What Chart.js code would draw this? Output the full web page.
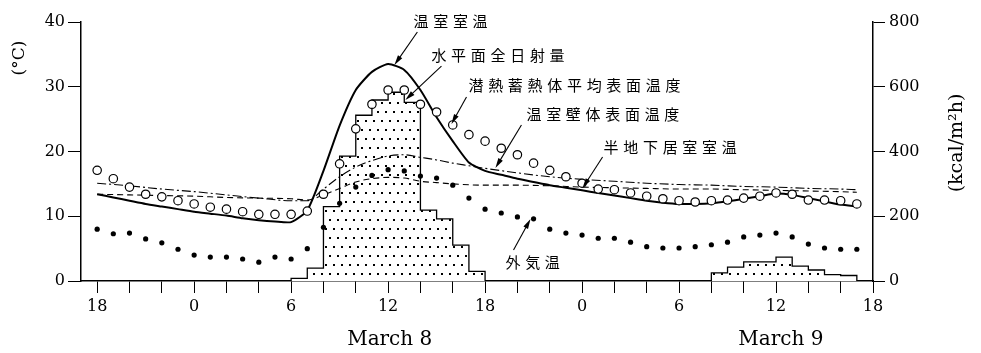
<!DOCTYPE html>
<html>
<head>
<meta charset="utf-8">
<script src="https://cdn.jsdelivr.net/npm/chart.js@4.4.1/dist/chart.umd.min.js"></script>
<style>
  html, body { margin: 0; padding: 0; background: #fff; }
</style>
</head>
<body>
<canvas id="chart" width="981" height="353"></canvas>
<script>
// Hour of the record (18 = 18:00 on March 7, 42 = 18:00 on March 8, 66 = 18:00 on March 9)
const hours = [18, 19, 20, 21, 22, 23, 24, 25, 26, 27, 28, 29, 30, 31, 32, 33, 34, 35, 36, 37, 38, 39, 40, 41,
               42, 43, 44, 45, 46, 47, 48, 49, 50, 51, 52, 53, 54, 55, 56, 57, 58, 59, 60, 61, 62, 63, 64, 65];

// 温室室温 (°C)
const greenhouseAir = [13.4, 12.9, 12.4, 11.9, 11.5, 11.1, 10.7, 10.4, 10.1, 9.7, 9.4, 9.2, 9.1, 10.9, 17.0, 24.0,
                       29.5, 32.3, 33.5, 32.6, 29.5, 25.3, 21.6, 18.3, 17.0, 16.4, 15.8, 15.3, 14.8, 14.4, 14.0, 13.6,
                       13.2, 12.8, 12.4, 12.1, 11.9, 11.9, 12.0, 12.3, 12.7, 13.1, 13.5, 13.3, 12.8, 12.3, 11.8, 11.5];

// 潜熱蓄熱体平均表面温度 (°C)
const latentStorage = [17.1, 15.8, 14.5, 13.4, 13.0, 12.4, 11.9, 11.4, 11.1, 10.7, 10.3, 10.3, 10.3, 10.8, 13.4, 18.1,
                       23.5, 27.3, 29.5, 29.5, 27.3, 26.1, 24.1, 22.6, 21.6, 20.5, 19.5, 18.2, 17.1, 16.1, 15.1, 14.2,
                       14.1, 13.6, 13.1, 12.7, 12.4, 12.2, 12.4, 12.5, 12.8, 13.1, 13.6, 13.4, 12.5, 12.5, 12.4, 11.9];

// 外気温 (°C)
const outsideAir = [8.0, 7.3, 7.4, 6.5, 5.9, 4.9, 4.0, 3.7, 3.7, 3.4, 2.9, 3.7, 3.4, 5.0, 8.3, 12.0,
                    14.5, 16.3, 17.2, 17.0, 16.2, 15.9, 14.8, 12.8, 11.1, 10.5, 9.9, 9.6, 8.0, 7.4, 7.1, 6.6,
                    6.6, 6.0, 5.3, 5.1, 5.1, 5.3, 5.6, 6.0, 6.8, 7.1, 7.4, 6.8, 5.7, 5.1, 4.9, 4.9];

// 温室壁体表面温度 (°C)
const wallHours = [18, 20, 22, 24, 26, 28, 30, 31, 32, 33, 34, 35, 36, 37, 38, 39, 40, 41, 42, 44, 46, 48,
                   50, 52, 54, 56, 58, 60, 62, 64, 65];
const wallSurface = [15.1, 14.7, 14.2, 13.8, 13.3, 12.8, 12.4, 12.4, 14.2, 16.1, 17.6, 18.6, 19.3, 19.5, 19.1, 18.7,
                     18.2, 17.8, 17.4, 16.7, 16.1, 15.7, 15.4, 15.1, 14.9, 14.8, 14.6, 14.5, 14.3, 14.2, 14.1];

// 半地下居室室温 (°C)
const basementHours = [18, 20, 22, 24, 26, 28, 30, 31, 32, 33, 34, 35, 36, 37, 38, 39, 40, 42, 44, 46, 48,
                       50, 52, 54, 56, 58, 60, 62, 64, 65];
const basementRoom = [13.4, 13.3, 13.2, 13.1, 12.9, 12.8, 12.7, 12.5, 13.3, 14.3, 15.3, 15.8, 16.0, 15.9, 15.4, 15.2,
                      15.0, 14.8, 14.8, 14.7, 14.5, 14.4, 14.3, 14.2, 14.2, 14.1, 14.0, 13.9, 13.8, 13.7];

// 水平面全日射量 (kcal/m²h), each value holds from its hour to the next listed hour
const radHours = [17, 30, 31, 32, 33, 34, 35, 36, 37, 38, 39, 40, 41, 42, 56, 57, 58, 59, 60, 61, 62, 63, 64, 65, 66];
const radValues = [0, 8, 40, 230, 386, 512, 559, 583, 552, 219, 192, 111, 30, 0, 25, 43, 59, 59, 74, 46, 34, 20, 17, 0, 0];

// Axis ticks
const xTicks = [18, 20, 22, 24, 26, 28, 30, 32, 34, 36, 38, 40, 42, 44, 46, 48, 50, 52, 54, 56, 58, 60, 62, 64, 66];
const xLabelHours = [18, 24, 30, 36, 42, 48, 54, 60, 66];
const xLabels = ['18', '0', '6', '12', '18', '0', '6', '12', '18'];
const tempTicks = [0, 10, 20, 30, 40];
const radTicks = [0, 200, 400, 600, 800];

// Callout labels: text anchor (hour, °C) and arrow from -> tip
const callouts = [
  { text: '温室室温', at: [37.57, 40.15], from: [37.81, 38.46], tip: [36.39, 33.36] },
  { text: '水平面全日射量', at: [38.68, 34.90], from: [39.30, 33.20], tip: [37.07, 27.95] },
  { text: '潜熱蓄熱体平均表面温度', at: [40.97, 30.20], from: [40.85, 28.42], tip: [39.92, 24.25] },
  { text: '温室壁体表面温度', at: [44.56, 25.80], from: [44.25, 24.09], tip: [42.64, 17.45] },
  { text: '半地下居室室温', at: [49.33, 20.69], from: [49.27, 19.15], tip: [48.03, 14.36] },
  { text: '外気温', at: [43.26, 2.93], from: [43.76, 4.79], tip: [44.81, 9.58] }
];
const dateLabels = [{ text: 'March 8', hour: 36.1 }, { text: 'March 9', hour: 60.3 }];

const pairs = (xs, ys) => xs.map((x, i) => ({ x: x, y: ys[i] }));

const canvas = document.getElementById('chart');
const ctx = canvas.getContext('2d');

// Stippled fill for the radiation histogram: staggered grid of small dots
function makeStipple() {
  const p = document.createElement('canvas');
  p.width = 8; p.height = 18;
  const g = p.getContext('2d');
  g.fillStyle = '#fff';
  g.fillRect(0, 0, 8, 18);
  g.fillStyle = '#000';
  g.fillRect(1, 3, 2, 2);
  g.fillRect(5, 12, 2, 2);
  return ctx.createPattern(p, 'repeat');
}

const serif = 'DejaVu Serif';
const cjk = '"Noto Sans CJK JP"';

function arrow(c, x1, y1, x2, y2) {
  const a = Math.atan2(y2 - y1, x2 - x1);
  const len = 10, hw = 2.6;
  c.beginPath();
  c.moveTo(x1, y1);
  c.lineTo(x2 - Math.cos(a) * len * 0.6, y2 - Math.sin(a) * len * 0.6);
  c.stroke();
  c.beginPath();
  c.moveTo(x2, y2);
  c.lineTo(x2 - Math.cos(a) * len + Math.sin(a) * hw, y2 - Math.sin(a) * len - Math.cos(a) * hw);
  c.lineTo(x2 - Math.cos(a) * len - Math.sin(a) * hw, y2 - Math.sin(a) * len + Math.cos(a) * hw);
  c.closePath();
  c.fill();
}

const annotate = {
  id: 'annotate',
  afterDraw(chart) {
    const c = chart.ctx;
    const xs = chart.scales.x, ys = chart.scales.y;
    const area = chart.chartArea;
    c.save();
    c.fillStyle = '#000';
    c.strokeStyle = '#000';
    c.lineWidth = 1.1;
    // callouts
    c.font = '15px ' + cjk;
    c.textBaseline = 'middle';
    c.textAlign = 'left';
    callouts.forEach(co => {
      let px = xs.getPixelForValue(co.at[0]);
      const py = ys.getPixelForValue(co.at[1]);
      for (const ch of co.text) {
        c.fillText(ch, px, py);
        px += 19.7;
      }
      arrow(c, xs.getPixelForValue(co.from[0]), ys.getPixelForValue(co.from[1]),
               xs.getPixelForValue(co.tip[0]), ys.getPixelForValue(co.tip[1]));
    });
    // date labels under the hour axis
    c.font = '20px ' + serif;
    c.textAlign = 'center';
    dateLabels.forEach(d => c.fillText(d.text, xs.getPixelForValue(d.hour), area.bottom + 59));
    // axis titles
    c.font = '17px ' + serif;
    c.save();
    c.translate(20, 58);
    c.rotate(-Math.PI / 2);
    c.fillText('(°C)', 0, 0);
    c.restore();
    c.font = '19px ' + serif;
    c.save();
    c.translate(957, 143);
    c.rotate(-Math.PI / 2);
    c.fillText('(kcal/m²h)', 0, 0);
    c.restore();
    c.restore();
  }
};

const axisBase = (ticks) => ({
  grid: { drawOnChartArea: false, drawTicks: true, color: '#000', lineWidth: 1 },
  border: { display: true, color: '#000', width: 1.5 },
  afterBuildTicks: s => { s.ticks = ticks.map(v => ({ value: v })); },
  ticks: { color: '#000', font: { family: serif, size: 16 }, autoSkip: false, maxRotation: 0 }
});

const xAxis = axisBase(xTicks);
xAxis.type = 'linear';
xAxis.min = 17; xAxis.max = 66;
xAxis.grid.tickLength = 12;
xAxis.ticks.padding = 4;
xAxis.ticks.callback = v => { const i = xLabelHours.indexOf(v); return i >= 0 ? xLabels[i] : ''; };
xAxis.afterFit = s => { s.height = 72; };

const yAxis = axisBase(tempTicks);
yAxis.position = 'left';
yAxis.min = 0; yAxis.max = 40;
yAxis.grid.tickLength = 13;
yAxis.ticks.padding = 3;
yAxis.afterFit = s => { s.width = 81; };

const y2Axis = axisBase(radTicks);
y2Axis.position = 'right';
y2Axis.min = 0; y2Axis.max = 800;
y2Axis.grid.tickLength = 12;
y2Axis.ticks.padding = 4;
y2Axis.afterFit = s => { s.width = 108; };

new Chart(ctx, {
  type: 'line',
  data: {
    datasets: [
      {
        label: '潜熱蓄熱体平均表面温度',
        data: pairs(hours, latentStorage),
        yAxisID: 'y',
        showLine: false,
        pointRadius: 4.2,
        pointBackgroundColor: '#fff',
        pointBorderColor: '#000',
        pointBorderWidth: 1.2,
        order: 1
      },
      {
        label: '外気温',
        data: pairs(hours, outsideAir),
        yAxisID: 'y',
        showLine: false,
        pointRadius: 2.6,
        pointBackgroundColor: '#000',
        pointBorderColor: '#000',
        pointBorderWidth: 0,
        order: 2
      },
      {
        label: '温室室温',
        data: pairs(hours, greenhouseAir),
        yAxisID: 'y',
        borderColor: '#000',
        borderWidth: 2,
        pointRadius: 0,
        tension: 0.2,
        fill: false,
        order: 3
      },
      {
        label: '温室壁体表面温度',
        data: pairs(wallHours, wallSurface),
        yAxisID: 'y',
        borderColor: '#000',
        borderWidth: 1.1,
        borderDash: [9, 3, 2, 3],
        pointRadius: 0,
        cubicInterpolationMode: 'monotone',
        fill: false,
        order: 4
      },
      {
        label: '半地下居室室温',
        data: pairs(basementHours, basementRoom),
        yAxisID: 'y',
        borderColor: '#000',
        borderWidth: 1.1,
        borderDash: [6, 4],
        pointRadius: 0,
        cubicInterpolationMode: 'monotone',
        fill: false,
        order: 5
      },
      {
        label: '水平面全日射量',
        data: pairs(radHours, radValues),
        yAxisID: 'y2',
        stepped: 'before',
        borderColor: '#000',
        borderWidth: 1.3,
        pointRadius: 0,
        backgroundColor: makeStipple(),
        fill: 'origin',
        order: 6
      }
    ]
  },
  options: {
    responsive: false,
    animation: false,
    devicePixelRatio: 1,
    layout: { padding: { top: 22, left: 0, right: 0, bottom: 0 } },
    plugins: { legend: { display: false }, tooltip: { enabled: false } },
    scales: { x: xAxis, y: yAxis, y2: y2Axis }
  },
  plugins: [annotate]
});
</script>
</body>
</html>
